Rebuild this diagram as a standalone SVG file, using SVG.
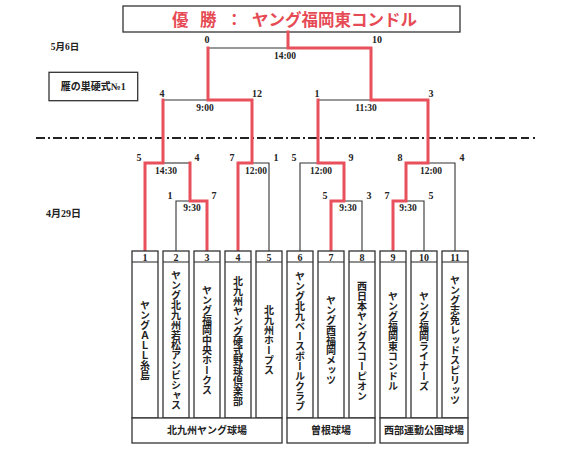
<svg xmlns="http://www.w3.org/2000/svg" width="568" height="467" viewBox="0 0 568 467">
<style>
.bg{fill:#ffffff}
.box{fill:#ffffff;stroke:#333333;stroke-width:1.3}
.ln{fill:none;stroke:#333333;stroke-width:1.1}
.rd{fill:none;stroke:#e8505c;stroke-width:3;stroke-linejoin:miter;stroke-linecap:square}
.title{font-family:"Noto Sans CJK JP",sans-serif;font-weight:700;font-size:16.5px;fill:#e64b55}
.num{font-family:"Liberation Serif","Noto Sans CJK JP",serif;font-weight:700;font-size:10px;fill:#222222;text-anchor:middle}
.tm{font-family:"Liberation Serif",serif;font-weight:700;font-size:9.5px;fill:#222222;text-anchor:middle}
.lbl{font-family:"Liberation Serif","Noto Sans CJK JP",serif;font-weight:700;fill:#222222}
.name{font-family:"Noto Sans CJK JP",sans-serif;font-weight:700;font-size:10px;fill:#222222;writing-mode:vertical-rl;text-anchor:middle;dominant-baseline:central}
.venue{font-family:"Noto Sans CJK JP",sans-serif;font-weight:700;font-size:10px;fill:#222222;text-anchor:middle}
.dd{fill:none;stroke:#222222;stroke-width:2}
</style>
<rect class="bg" x="0" y="0" width="568" height="467"/>

<g id="title">
<rect class="box" x="123" y="6" width="337" height="26"/>
<text class="title" y="25.5"><tspan x="172">優</tspan><tspan x="200">勝</tspan><tspan x="226">：</tspan><tspan x="252">ヤング福岡東コンドル</tspan></text>
</g>

<g id="labels">
<text class="lbl" x="50.7" y="49.5" font-size="9.5">5月6日</text>
<rect class="box" x="49" y="72.3" width="88.7" height="28.4"/>
<text class="lbl" x="60.7" y="90.2" font-size="10">雁の巣硬式№1</text>
<text class="lbl" x="46" y="216.5" font-size="10">4月29日</text>
<path class="dd" d="M36,138 H497" stroke-dasharray="9 3 2 3"/>
<path class="dd" d="M497,138 H535" stroke-dasharray="8 4"/>
</g>

<g id="connectors">
<path class="ln" d="M176,251 V201 H190"/>
<path class="ln" d="M163,163 H190"/>
<path class="ln" d="M269,251 V163 H252"/>
<path class="ln" d="M163,100 H208"/>
<path class="ln" d="M300,251 V163 H318"/>
<path class="ln" d="M362,251 V201 H344"/>
<path class="ln" d="M424,251 V201 H406"/>
<path class="ln" d="M455,251 V163 H428"/>
<path class="ln" d="M318,100 H371"/>
<path class="ln" d="M208,48 H288"/>
<path class="rd" d="M145,251 V163 H163 V100"/>
<path class="rd" d="M207,251 V201 H190 V163"/>
<path class="rd" d="M238,251 V163 H252 V100 H208 V48"/>
<path class="rd" d="M331,251 V201 H344 V163 H318 V100"/>
<path class="rd" d="M393,251 V201 H406 V163 H428 V100 H371 V48 H288 V32"/>
</g>

<g id="scores">
<text class="num" x="207" y="43">0</text>
<text class="num" x="377" y="43">10</text>
<text class="tm" x="285" y="58.5">14:00</text>
<text class="num" x="162" y="96.6">4</text>
<text class="num" x="257" y="96.6">12</text>
<text class="tm" x="205" y="110.6">9:00</text>
<text class="num" x="317" y="96.6">1</text>
<text class="num" x="431" y="96.6">3</text>
<text class="tm" x="366" y="110.6">11:30</text>
<text class="num" x="139" y="160.5">5</text>
<text class="num" x="197" y="160.5">4</text>
<text class="tm" x="166" y="173.5">14:30</text>
<text class="num" x="232" y="160.5">7</text>
<text class="num" x="276" y="160.5">1</text>
<text class="tm" x="256" y="173.5">12:00</text>
<text class="num" x="294" y="160.5">5</text>
<text class="num" x="351" y="160.5">9</text>
<text class="tm" x="321" y="173.5">12:00</text>
<text class="num" x="400" y="160.5">8</text>
<text class="num" x="462" y="160.5">4</text>
<text class="tm" x="431" y="173.5">12:00</text>
<text class="num" x="170" y="198.5">1</text>
<text class="num" x="214" y="198.5">7</text>
<text class="tm" x="192" y="211">9:30</text>
<text class="num" x="325" y="198.5">5</text>
<text class="num" x="369" y="198.5">3</text>
<text class="tm" x="348" y="211">9:30</text>
<text class="num" x="387" y="198.5">7</text>
<text class="num" x="431" y="198.5">5</text>
<text class="tm" x="408" y="211">9:30</text>
</g>

<g id="team-1"><rect class="box" x="132" y="251" width="26" height="167"/><line class="ln" x1="132" y1="262" x2="158" y2="262"/><text class="num" x="145" y="261">1</text><text class="name" x="145" y="340">ヤングＡＬＬ糸島</text></g>
<g id="team-2"><rect class="box" x="163" y="251" width="26" height="167"/><line class="ln" x1="163" y1="262" x2="189" y2="262"/><text class="num" x="176" y="261">2</text><text class="name" x="176" y="340">ヤング北九州若松アンビシャス</text></g>
<g id="team-3"><rect class="box" x="194" y="251" width="26" height="167"/><line class="ln" x1="194" y1="262" x2="220" y2="262"/><text class="num" x="207" y="261">3</text><text class="name" x="207" y="340">ヤング福岡中央ホークス</text></g>
<g id="team-4"><rect class="box" x="225" y="251" width="26" height="167"/><line class="ln" x1="225" y1="262" x2="251" y2="262"/><text class="num" x="238" y="261">4</text><text class="name" x="238" y="341">北九州ヤング硬式野球倶楽部</text></g>
<g id="team-5"><rect class="box" x="256" y="251" width="26" height="167"/><line class="ln" x1="256" y1="262" x2="282" y2="262"/><text class="num" x="269" y="261">5</text><text class="name" x="269" y="340">北九州ホープス</text></g>
<g id="team-6"><rect class="box" x="287" y="251" width="26" height="167"/><line class="ln" x1="287" y1="262" x2="313" y2="262"/><text class="num" x="300" y="261">6</text><text class="name" x="300" y="341">ヤング北九ベースボールクラブ</text></g>
<g id="team-7"><rect class="box" x="318" y="251" width="26" height="167"/><line class="ln" x1="318" y1="262" x2="344" y2="262"/><text class="num" x="331" y="261">7</text><text class="name" x="331" y="340">ヤング西福岡メッツ</text></g>
<g id="team-8"><rect class="box" x="349" y="251" width="26" height="167"/><line class="ln" x1="349" y1="262" x2="375" y2="262"/><text class="num" x="362" y="261">8</text><text class="name" x="362" y="341">西日本ヤングスコーピオン</text></g>
<g id="team-9"><rect class="box" x="380" y="251" width="26" height="167"/><line class="ln" x1="380" y1="262" x2="406" y2="262"/><text class="num" x="393" y="261">9</text><text class="name" x="393" y="341">ヤング福岡東コンドル</text></g>
<g id="team-10"><rect class="box" x="411" y="251" width="26" height="167"/><line class="ln" x1="411" y1="262" x2="437" y2="262"/><text class="num" x="424" y="261">10</text><text class="name" x="424" y="341">ヤング福岡ライナーズ</text></g>
<g id="team-11"><rect class="box" x="442" y="251" width="26" height="167"/><line class="ln" x1="442" y1="262" x2="468" y2="262"/><text class="num" x="455" y="261">11</text><text class="name" x="455" y="340">ヤング志免レッドスピリッツ</text></g>

<g id="venue-kitakyushu"><rect class="box" x="132" y="418" width="150" height="25"/><text class="venue" x="207" y="434">北九州ヤング球場</text></g>
<g id="venue-sone"><rect class="box" x="287" y="418" width="88" height="25"/><text class="venue" x="331" y="434">曽根球場</text></g>
<g id="venue-seibu"><rect class="box" x="380" y="418" width="88" height="25"/><text class="venue" x="424" y="434">西部運動公園球場</text></g>
</svg>
